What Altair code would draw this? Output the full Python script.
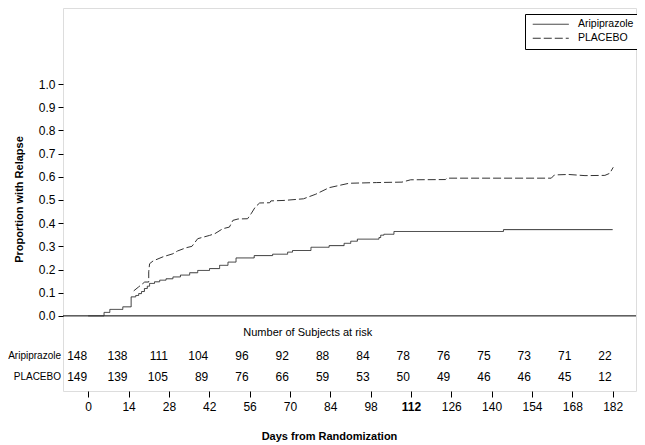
import altair as alt
import pandas as pd

# ---- data ----
tick_days = [0, 14, 28, 42, 56, 70, 84, 98, 112, 126, 140, 154, 168, 182]
y_ticks = [0.0, 0.1, 0.2, 0.3, 0.4, 0.5, 0.6, 0.7, 0.8, 0.9, 1.0]

ari_days = [0, 5.5, 7.5, 12, 14.9, 16.5, 17.5, 18.5, 19.5, 20.5, 21.3, 23, 24.8, 27,
            29.4, 32, 35.2, 38, 42.1, 45.6, 48.5, 51.3, 57.6, 64, 69.2, 70.9, 77.3,
            83.6, 88.8, 91.1, 93.4, 100.9, 101.5, 102.6, 106.1, 144.1, 182]
ari_prop = [0, 0.015, 0.028, 0.039, 0.082, 0.088, 0.096, 0.105, 0.118, 0.128, 0.14,
            0.147, 0.154, 0.16, 0.168, 0.176, 0.186, 0.196, 0.204, 0.218, 0.232, 0.25,
            0.26, 0.266, 0.275, 0.282, 0.296, 0.303, 0.313, 0.322, 0.331, 0.338, 0.348,
            0.352, 0.364, 0.372, 0.372]

pla_days = [15.8, 17.5, 19.6, 21.0, 21.0, 21.3, 22.5, 26, 29.4, 31, 34, 36, 38, 42.1,
            44, 46.7, 49, 50.2, 52, 55.3, 56.5, 58, 59.5, 63, 63.4, 68, 74.7, 79, 83.6,
            90.5, 100, 108.9, 111.9, 124, 124.4, 160.7, 161.8, 166.6, 172.4, 179.3,
            181, 182.2]
pla_prop = [0.108, 0.125, 0.146, 0.146, 0.19, 0.225, 0.237, 0.255, 0.268, 0.28, 0.294,
            0.30, 0.333, 0.347, 0.355, 0.376, 0.383, 0.412, 0.418, 0.419, 0.44, 0.47,
            0.487, 0.488, 0.496, 0.498, 0.505, 0.525, 0.553, 0.572, 0.575, 0.577, 0.587,
            0.588, 0.594, 0.594, 0.608, 0.61, 0.605, 0.606, 0.615, 0.641]

risk_ari = [148, 138, 111, 104, 96, 92, 88, 84, 78, 76, 75, 73, 71, 22]
risk_pla = [149, 139, 105, 89, 76, 66, 59, 53, 50, 49, 46, 46, 45, 12]

groups = ["Aripiprazole", "PLACEBO"]

FONT = "Liberation Sans, Arial, sans-serif"
LINE_COLOR = "#333333"

ari_df = pd.DataFrame({"day": ari_days, "prop": ari_prop, "group": groups[0]})
pla_df = pd.DataFrame({"day": pla_days, "prop": pla_prop, "group": groups[1]})
risk_df = pd.DataFrame({"day": tick_days, "ari": risk_ari, "pla": risk_pla})

xscale = alt.Scale(domain=[-8.75, 190.1], nice=False, zero=False)
yscale = alt.Scale(domain=[-0.324, 1.328], nice=False, zero=False)

xaxis = alt.Axis(values=tick_days, title="Days from Randomization", grid=False,
                 domain=False, tickSize=6, tickColor="black", labelFontSize=12,
                 labelFont=FONT, labelColor="black", labelPadding=4, labelOverlap=False,
                 labelFontWeight=alt.condition("datum.value == 112", alt.value("bold"), alt.value("normal")),
                 titleFont=FONT, titleFontSize=11, titleFontWeight="bold",
                 titleColor="black", titleX=266, titleY=45, titleBaseline="middle")
yaxis = alt.Axis(values=y_ticks, format=".1f",
                 title="Proportion with Relapse", grid=False, domain=False,
                 tickSize=5, tickColor="black", labelFontSize=12, labelFont=FONT,
                 labelColor="black", labelPadding=3, labelOverlap=False,
                 titleFont=FONT, titleFontSize=11, titleFontWeight="bold",
                 titleColor="black", titleX=-44, titleY=191, titleAngle=270,
                 titleBaseline="middle", titleAlign="center")

legend_cfg = dict(title=None, orient="none", legendX=462, legendY=6,
                  strokeColor="black", fillColor="white", padding=5,
                  symbolType="M-4,0H4", symbolSize=81, symbolStrokeWidth=1,
                  symbolOffset=15.5,
                  labelFont=FONT, labelFontSize=10.5, labelColor="black",
                  labelOffset=22, rowPadding=3, cornerRadius=0)

color = alt.Color("group:N", scale=alt.Scale(domain=groups, range=[LINE_COLOR, LINE_COLOR]),
                  legend=alt.Legend(**legend_cfg))
dash = alt.StrokeDash("group:N", scale=alt.Scale(domain=groups, range=[[1, 0], [8, 3]]),
                      legend=alt.Legend(**legend_cfg))


def X(field):
    return alt.X(field, scale=xscale, axis=xaxis)


def Y(field):
    return alt.Y(field, scale=yscale, axis=yaxis)


zero_rule = alt.Chart(pd.DataFrame({"y": [0]})).mark_rule(color="black", strokeWidth=1).encode(
    y=Y("y:Q"))

ari_line = alt.Chart(ari_df).mark_line(interpolate="step-after", strokeWidth=1).encode(
    x=X("day:Q"), y=Y("prop:Q"), color=color, strokeDash=dash)

pla_line = alt.Chart(pla_df).mark_line(interpolate="linear", strokeWidth=1).encode(
    x=X("day:Q"), y=Y("prop:Q"), color=color, strokeDash=dash)

risk_title = alt.Chart(pd.DataFrame({"t": ["Number of Subjects at risk"]})).mark_text(
    font=FONT, fontSize=11, color="black", baseline="middle").encode(
    text="t:N", x=alt.datum(76.2, scale=xscale, axis=xaxis),
    y=alt.datum(-0.074, scale=yscale, axis=yaxis))

ari_nums = alt.Chart(risk_df).mark_text(font=FONT, fontSize=12, color="black",
                                        align="right", baseline="middle", dx=-1).encode(
    x=X("day:Q"), y=alt.datum(-0.173, scale=yscale, axis=yaxis), text="ari:Q")
pla_nums = alt.Chart(risk_df).mark_text(font=FONT, fontSize=12, color="black",
                                        align="right", baseline="middle", dx=-1).encode(
    x=X("day:Q"), y=alt.datum(-0.264, scale=yscale, axis=yaxis), text="pla:Q")

row_labels = alt.Chart(pd.DataFrame({"g": groups, "yy": [-0.173, -0.264]})).mark_text(
    font=FONT, fontSize=10, color="black", align="right", baseline="middle").encode(
    x=alt.value(-2), y=Y("yy:Q"), text="g:N")

chart = alt.layer(zero_rule, ari_line, pla_line, risk_title, ari_nums, pla_nums,
                  row_labels).properties(
    width=573, height=383,
    autosize=alt.AutoSizeParams(type="none"),
    padding={"left": 55, "top": 0, "right": 1, "bottom": 52},
).configure_view(stroke="black", strokeWidth=1).configure(background="white")

chart.save("out.html", embed_options={"renderer": "svg", "actions": False})
